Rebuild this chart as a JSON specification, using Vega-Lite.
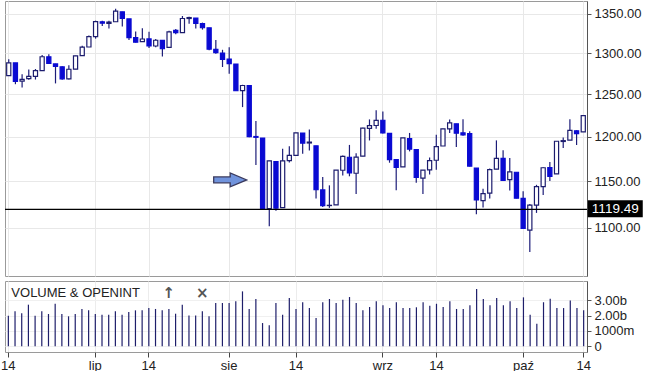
{
  "$schema": "https://vega.github.io/schema/vega-lite/v6.json",
  "padding": {"left": 0, "top": 0, "right": 0, "bottom": 0},
  "background": "white",
  "spacing": 3,
  "config": {
    "font": "Liberation Sans",
    "view": {"stroke": "#9a9a9a", "strokeWidth": 1},
    "axis": {"labelFont": "Liberation Sans", "labelFontSize": 13, "labelColor": "#222222", "title": null, "labelOverlap": false}
  },
  "datasets": {
    "ohlc": [
      {"date": "2011-06-14", "open": 1272.22, "high": 1292.5, "low": 1272.22, "close": 1287.87, "volume": 2.0e9},
      {"date": "2011-06-15", "open": 1287.87, "high": 1287.87, "low": 1261.9, "close": 1265.42, "volume": 2.29e9},
      {"date": "2011-06-16", "open": 1265.53, "high": 1274.11, "low": 1258.07, "close": 1267.64, "volume": 2.16e9},
      {"date": "2011-06-17", "open": 1268.58, "high": 1279.82, "low": 1267.4, "close": 1271.5, "volume": 2.72e9},
      {"date": "2011-06-20", "open": 1271.5, "high": 1280.42, "low": 1267.56, "close": 1278.36, "volume": 2.0e9},
      {"date": "2011-06-21", "open": 1278.4, "high": 1297.62, "low": 1278.4, "close": 1295.52, "volume": 2.29e9},
      {"date": "2011-06-22", "open": 1295.48, "high": 1298.61, "low": 1286.79, "close": 1287.14, "volume": 2.11e9},
      {"date": "2011-06-23", "open": 1286.6, "high": 1286.79, "low": 1262.87, "close": 1283.5, "volume": 2.78e9},
      {"date": "2011-06-24", "open": 1283.04, "high": 1283.93, "low": 1267.24, "close": 1268.45, "volume": 2.11e9},
      {"date": "2011-06-27", "open": 1268.44, "high": 1284.91, "low": 1267.53, "close": 1280.1, "volume": 1.96e9},
      {"date": "2011-06-28", "open": 1280.21, "high": 1296.8, "low": 1280.21, "close": 1296.67, "volume": 2.11e9},
      {"date": "2011-06-29", "open": 1296.85, "high": 1309.21, "low": 1296.85, "close": 1307.41, "volume": 2.44e9},
      {"date": "2011-06-30", "open": 1307.64, "high": 1321.97, "low": 1307.64, "close": 1320.64, "volume": 2.35e9},
      {"date": "2011-07-01", "open": 1320.64, "high": 1341.01, "low": 1318.18, "close": 1339.67, "volume": 2.11e9},
      {"date": "2011-07-05", "open": 1339.59, "high": 1340.89, "low": 1334.3, "close": 1337.88, "volume": 2.07e9},
      {"date": "2011-07-06", "open": 1337.56, "high": 1340.94, "low": 1330.92, "close": 1339.22, "volume": 2.07e9},
      {"date": "2011-07-07", "open": 1339.62, "high": 1356.48, "low": 1339.62, "close": 1353.22, "volume": 2.29e9},
      {"date": "2011-07-08", "open": 1352.39, "high": 1352.39, "low": 1333.71, "close": 1343.8, "volume": 2.07e9},
      {"date": "2011-07-11", "open": 1343.31, "high": 1343.31, "low": 1316.42, "close": 1319.49, "volume": 2.24e9},
      {"date": "2011-07-12", "open": 1319.61, "high": 1327.17, "low": 1313.33, "close": 1313.64, "volume": 2.35e9},
      {"date": "2011-07-13", "open": 1314.45, "high": 1331.48, "low": 1314.45, "close": 1317.72, "volume": 2.35e9},
      {"date": "2011-07-14", "open": 1317.74, "high": 1326.88, "low": 1306.51, "close": 1308.87, "volume": 2.5e9},
      {"date": "2011-07-15", "open": 1308.87, "high": 1317.7, "low": 1307.35, "close": 1316.14, "volume": 2.44e9},
      {"date": "2011-07-18", "open": 1315.94, "high": 1315.94, "low": 1295.92, "close": 1305.44, "volume": 2.35e9},
      {"date": "2011-07-19", "open": 1307.07, "high": 1328.14, "low": 1307.07, "close": 1326.73, "volume": 2.44e9},
      {"date": "2011-07-20", "open": 1328.66, "high": 1330.43, "low": 1323.65, "close": 1325.84, "volume": 2.13e9},
      {"date": "2011-07-21", "open": 1325.65, "high": 1347.0, "low": 1325.65, "close": 1343.8, "volume": 2.72e9},
      {"date": "2011-07-22", "open": 1343.8, "high": 1346.1, "low": 1336.95, "close": 1345.02, "volume": 2.02e9},
      {"date": "2011-07-25", "open": 1344.32, "high": 1344.32, "low": 1331.09, "close": 1337.43, "volume": 2.02e9},
      {"date": "2011-07-26", "open": 1337.39, "high": 1338.51, "low": 1329.59, "close": 1331.94, "volume": 2.29e9},
      {"date": "2011-07-27", "open": 1331.91, "high": 1331.91, "low": 1303.49, "close": 1304.89, "volume": 1.96e9},
      {"date": "2011-07-28", "open": 1304.84, "high": 1316.32, "low": 1299.16, "close": 1300.67, "volume": 2.83e9},
      {"date": "2011-07-29", "open": 1300.12, "high": 1304.16, "low": 1282.86, "close": 1292.28, "volume": 2.83e9},
      {"date": "2011-08-01", "open": 1292.59, "high": 1307.38, "low": 1274.73, "close": 1286.94, "volume": 2.83e9},
      {"date": "2011-08-02", "open": 1286.56, "high": 1286.56, "low": 1254.03, "close": 1254.05, "volume": 2.94e9},
      {"date": "2011-08-03", "open": 1254.25, "high": 1261.2, "low": 1234.56, "close": 1260.34, "volume": 3.59e9},
      {"date": "2011-08-04", "open": 1260.23, "high": 1260.23, "low": 1199.54, "close": 1200.07, "volume": 2.44e9},
      {"date": "2011-08-05", "open": 1200.28, "high": 1218.11, "low": 1168.09, "close": 1199.38, "volume": 3.09e9},
      {"date": "2011-08-08", "open": 1198.48, "high": 1198.48, "low": 1119.28, "close": 1119.46, "volume": 1.52e9},
      {"date": "2011-08-09", "open": 1120.23, "high": 1172.88, "low": 1101.54, "close": 1172.53, "volume": 1.37e9},
      {"date": "2011-08-10", "open": 1171.77, "high": 1171.77, "low": 1118.01, "close": 1120.76, "volume": 2.83e9},
      {"date": "2011-08-11", "open": 1121.3, "high": 1186.29, "low": 1121.3, "close": 1172.64, "volume": 2.07e9},
      {"date": "2011-08-12", "open": 1172.87, "high": 1189.04, "low": 1170.74, "close": 1178.81, "volume": 3.16e9},
      {"date": "2011-08-15", "open": 1178.86, "high": 1204.49, "low": 1178.86, "close": 1204.49, "volume": 2.44e9},
      {"date": "2011-08-16", "open": 1204.22, "high": 1204.22, "low": 1180.53, "close": 1192.76, "volume": 2.88e9},
      {"date": "2011-08-17", "open": 1192.89, "high": 1208.47, "low": 1184.36, "close": 1193.89, "volume": 2.5e9},
      {"date": "2011-08-18", "open": 1189.62, "high": 1189.62, "low": 1131.03, "close": 1140.65, "volume": 1.85e9},
      {"date": "2011-08-19", "open": 1140.47, "high": 1154.54, "low": 1122.05, "close": 1123.53, "volume": 2.88e9},
      {"date": "2011-08-22", "open": 1123.55, "high": 1145.49, "low": 1121.09, "close": 1123.82, "volume": 3.09e9},
      {"date": "2011-08-23", "open": 1124.36, "high": 1162.35, "low": 1124.36, "close": 1162.35, "volume": 2.83e9},
      {"date": "2011-08-24", "open": 1162.16, "high": 1178.56, "low": 1156.3, "close": 1177.6, "volume": 3.05e9},
      {"date": "2011-08-25", "open": 1176.69, "high": 1190.68, "low": 1155.47, "close": 1159.27, "volume": 3.22e9},
      {"date": "2011-08-26", "open": 1158.85, "high": 1181.23, "low": 1135.91, "close": 1176.8, "volume": 2.83e9},
      {"date": "2011-08-29", "open": 1177.91, "high": 1210.28, "low": 1177.91, "close": 1210.08, "volume": 2.35e9},
      {"date": "2011-08-30", "open": 1209.76, "high": 1220.1, "low": 1195.77, "close": 1212.92, "volume": 2.57e9},
      {"date": "2011-08-31", "open": 1213.0, "high": 1230.71, "low": 1209.35, "close": 1218.89, "volume": 2.94e9},
      {"date": "2011-09-01", "open": 1219.12, "high": 1229.29, "low": 1203.85, "close": 1204.42, "volume": 2.68e9},
      {"date": "2011-09-02", "open": 1203.9, "high": 1203.9, "low": 1170.56, "close": 1173.97, "volume": 2.5e9},
      {"date": "2011-09-06", "open": 1173.97, "high": 1173.97, "low": 1140.13, "close": 1165.24, "volume": 2.88e9},
      {"date": "2011-09-07", "open": 1165.85, "high": 1198.62, "low": 1165.85, "close": 1198.62, "volume": 2.5e9},
      {"date": "2011-09-08", "open": 1197.98, "high": 1204.4, "low": 1183.34, "close": 1185.9, "volume": 2.5e9},
      {"date": "2011-09-09", "open": 1185.37, "high": 1185.37, "low": 1148.37, "close": 1154.23, "volume": 2.55e9},
      {"date": "2011-09-12", "open": 1153.5, "high": 1162.52, "low": 1136.07, "close": 1162.27, "volume": 2.88e9},
      {"date": "2011-09-13", "open": 1162.59, "high": 1176.41, "low": 1157.44, "close": 1172.87, "volume": 2.65e9},
      {"date": "2011-09-14", "open": 1173.32, "high": 1202.38, "low": 1162.73, "close": 1188.68, "volume": 2.78e9},
      {"date": "2011-09-15", "open": 1189.44, "high": 1209.11, "low": 1189.44, "close": 1209.11, "volume": 2.57e9},
      {"date": "2011-09-16", "open": 1209.21, "high": 1220.06, "low": 1204.46, "close": 1216.01, "volume": 2.94e9},
      {"date": "2011-09-19", "open": 1214.99, "high": 1214.99, "low": 1188.36, "close": 1204.09, "volume": 2.44e9},
      {"date": "2011-09-20", "open": 1204.5, "high": 1220.39, "low": 1201.29, "close": 1202.09, "volume": 2.44e9},
      {"date": "2011-09-21", "open": 1203.63, "high": 1206.3, "low": 1166.21, "close": 1166.76, "volume": 2.68e9},
      {"date": "2011-09-22", "open": 1164.55, "high": 1164.55, "low": 1114.22, "close": 1129.56, "volume": 3.75e9},
      {"date": "2011-09-23", "open": 1128.82, "high": 1141.72, "low": 1121.36, "close": 1136.43, "volume": 3.09e9},
      {"date": "2011-09-26", "open": 1136.91, "high": 1164.19, "low": 1131.07, "close": 1162.95, "volume": 2.68e9},
      {"date": "2011-09-27", "open": 1163.32, "high": 1195.86, "low": 1163.32, "close": 1175.38, "volume": 3.16e9},
      {"date": "2011-09-28", "open": 1175.39, "high": 1184.71, "low": 1150.4, "close": 1151.06, "volume": 2.68e9},
      {"date": "2011-09-29", "open": 1151.74, "high": 1175.87, "low": 1139.93, "close": 1160.4, "volume": 2.94e9},
      {"date": "2011-09-30", "open": 1159.93, "high": 1159.93, "low": 1131.34, "close": 1131.42, "volume": 2.5e9},
      {"date": "2011-10-03", "open": 1131.21, "high": 1138.99, "low": 1098.92, "close": 1099.23, "volume": 3.2e9},
      {"date": "2011-10-04", "open": 1097.42, "high": 1125.12, "low": 1074.77, "close": 1123.95, "volume": 2.07e9},
      {"date": "2011-10-05", "open": 1124.03, "high": 1146.07, "low": 1115.68, "close": 1144.03, "volume": 1.48e9},
      {"date": "2011-10-06", "open": 1144.11, "high": 1165.55, "low": 1134.95, "close": 1164.97, "volume": 2.88e9},
      {"date": "2011-10-07", "open": 1165.03, "high": 1171.4, "low": 1150.26, "close": 1155.46, "volume": 3.11e9},
      {"date": "2011-10-10", "open": 1158.15, "high": 1194.91, "low": 1158.15, "close": 1194.89, "volume": 2.5e9},
      {"date": "2011-10-11", "open": 1194.6, "high": 1199.24, "low": 1187.3, "close": 1195.54, "volume": 2.5e9},
      {"date": "2011-10-12", "open": 1196.19, "high": 1220.25, "low": 1196.19, "close": 1207.25, "volume": 3.0e9},
      {"date": "2011-10-13", "open": 1206.96, "high": 1207.46, "low": 1190.58, "close": 1203.66, "volume": 2.5e9},
      {"date": "2011-10-14", "open": 1205.65, "high": 1224.61, "low": 1205.65, "close": 1224.58, "volume": 2.35e9}
    ]
  },
  "vconcat": [
    {
      "width": 582,
      "height": 275,
      "layer": [
        {
          "data": {"name": "ohlc"},
          "mark": {"type": "rule", "color": "#1c1c78", "strokeWidth": 1.2},
          "encoding": {
            "x": {"field": "date", "type": "ordinal", "scale": {"type": "band", "paddingInner": 0, "paddingOuter": 0.06},
              "axis": {"values": ["2011-06-14", "2011-07-01", "2011-07-14", "2011-08-01", "2011-08-15", "2011-09-01", "2011-09-14", "2011-10-03", "2011-10-14"], "labels": false, "ticks": false, "domain": false, "grid": true, "gridColor": "#e8e8e8"}},
            "y": {"field": "low", "type": "quantitative",
              "scale": {"type": "log", "domain": [1050.3, 1366.5], "nice": false, "zero": false},
              "axis": {"orient": "right", "values": [1100, 1150, 1200, 1250, 1300, 1350], "format": ".2f", "grid": true, "gridColor": "#e8e8e8", "tickSize": 4, "tickColor": "#555555", "domainColor": "#555555", "labelPadding": 3, "labelOverlap": false}},
            "y2": {"field": "high"}
          }
        },
        {
          "data": {"name": "ohlc"},
          "mark": {"type": "bar", "width": {"band": 0.62}, "strokeWidth": 1.2},
          "encoding": {
            "x": {"field": "date", "type": "ordinal"},
            "y": {"field": "open", "type": "quantitative"},
            "y2": {"field": "close"},
            "fill": {"condition": {"test": "datum.close >= datum.open", "value": "#ffffff"}, "value": "#0a0ad2"},
            "stroke": {"condition": {"test": "datum.close >= datum.open", "value": "#1c1c6e"}, "value": "#0a0ad2"}
          }
        },
        {
          "data": {"values": [{"level": 1119.49}]},
          "mark": {"type": "rule", "color": "#000000", "strokeWidth": 1.3},
          "encoding": {"y": {"field": "level", "type": "quantitative"}}
        },
        {
          "data": {"values": [{"date": "2011-08-01", "price": 1151.5}]},
          "mark": {"type": "point", "shape": "M-1,-0.18 L0,-0.18 L0,-0.42 L1,0 L0,0.42 L0,0.18 L-1,0.18 Z", "size": 1089, "filled": true, "fill": "#7093dc", "stroke": "#3a3a5e", "strokeWidth": 1.3, "opacity": 1, "xOffset": 1},
          "encoding": {"x": {"field": "date", "type": "ordinal"}, "y": {"field": "price", "type": "quantitative"}}
        },
        {
          "data": {"values": [{"date": "2011-10-14", "level": 1119.49, "label": "1119.49"}]},
          "mark": {"type": "point", "shape": "M-1,-0.31 L1,-0.31 L1,0.31 L-1,0.31 Z", "size": 3025, "filled": true, "fill": "#000000", "strokeWidth": 0, "opacity": 1, "xOffset": 32, "yOffset": -0.5},
          "encoding": {"x": {"field": "date", "type": "ordinal"}, "y": {"field": "level", "type": "quantitative"}}
        },
        {
          "data": {"values": [{"date": "2011-10-14", "level": 1119.49, "label": "1119.49"}]},
          "mark": {"type": "text", "color": "#ffffff", "fontSize": 13.5, "align": "center", "baseline": "middle", "xOffset": 32, "yOffset": 0},
          "encoding": {"x": {"field": "date", "type": "ordinal"}, "y": {"field": "level", "type": "quantitative"}, "text": {"field": "label"}}
        }
      ]
    },
    {
      "width": 582,
      "height": 71,
      "layer": [
        {
          "data": {"name": "ohlc"},
          "mark": {"type": "rule", "color": "#1e1e6a", "strokeWidth": 1.2},
          "encoding": {
            "x": {"field": "date", "type": "ordinal",
              "axis": {"values": ["2011-06-14", "2011-07-01", "2011-07-14", "2011-08-01", "2011-08-15", "2011-09-01", "2011-09-14", "2011-10-03", "2011-10-14"],
                "labelExpr": "datum.value == '2011-07-01' ? 'lip' : datum.value == '2011-08-01' ? 'sie' : datum.value == '2011-09-01' ? 'wrz' : datum.value == '2011-10-03' ? 'paź' : '14'",
                "labelAngle": 0, "labelOverlap": false, "domain": false, "grid": true, "gridColor": "#ececec", "tickSize": 5, "tickColor": "#444444", "labelPadding": 2}},
            "y": {"field": "volume", "type": "quantitative",
              "scale": {"domain": [-373000000, 4268000000], "nice": false, "zero": false},
              "axis": {"orient": "right", "values": [0, 1000000000, 2000000000, 3000000000],
                "labelExpr": "datum.value == 0 ? '0' : datum.value == 1000000000 ? '1000m' : format(datum.value / 1000000000, '.2f') + 'b'",
                "labelOverlap": false, "labelBound": false, "grid": true, "gridColor": "#f0f0f0", "tickSize": 4, "tickColor": "#555555", "domainColor": "#555555", "labelPadding": 3}},
            "y2": {"datum": 0}
          }
        },
        {
          "data": {"values": [{"date": "2011-06-14", "level": 3480000000, "label": "VOLUME & OPENINT"}]},
          "mark": {"type": "text", "align": "left", "baseline": "middle", "fontSize": 13, "color": "#222222", "dx": 3},
          "encoding": {"x": {"field": "date", "type": "ordinal"}, "y": {"field": "level", "type": "quantitative", "axis": {"orient": "right", "values": [0, 1000000000, 2000000000, 3000000000], "labelOverlap": false}}, "text": {"field": "label"}}
        },
        {
          "data": {"values": [{"date": "2011-07-19", "level": 3480000000, "label": "↑"}, {"date": "2011-07-26", "level": 3480000000, "label": "×"}]},
          "mark": {"type": "text", "align": "center", "baseline": "middle", "fontSize": 15, "font": "DejaVu Sans", "fontWeight": "bold", "color": "#555555"},
          "encoding": {"x": {"field": "date", "type": "ordinal"}, "y": {"field": "level", "type": "quantitative", "axis": {"orient": "right", "values": [0, 1000000000, 2000000000, 3000000000], "labelOverlap": false}}, "text": {"field": "label"}}
        }
      ]
    }
  ]
}
